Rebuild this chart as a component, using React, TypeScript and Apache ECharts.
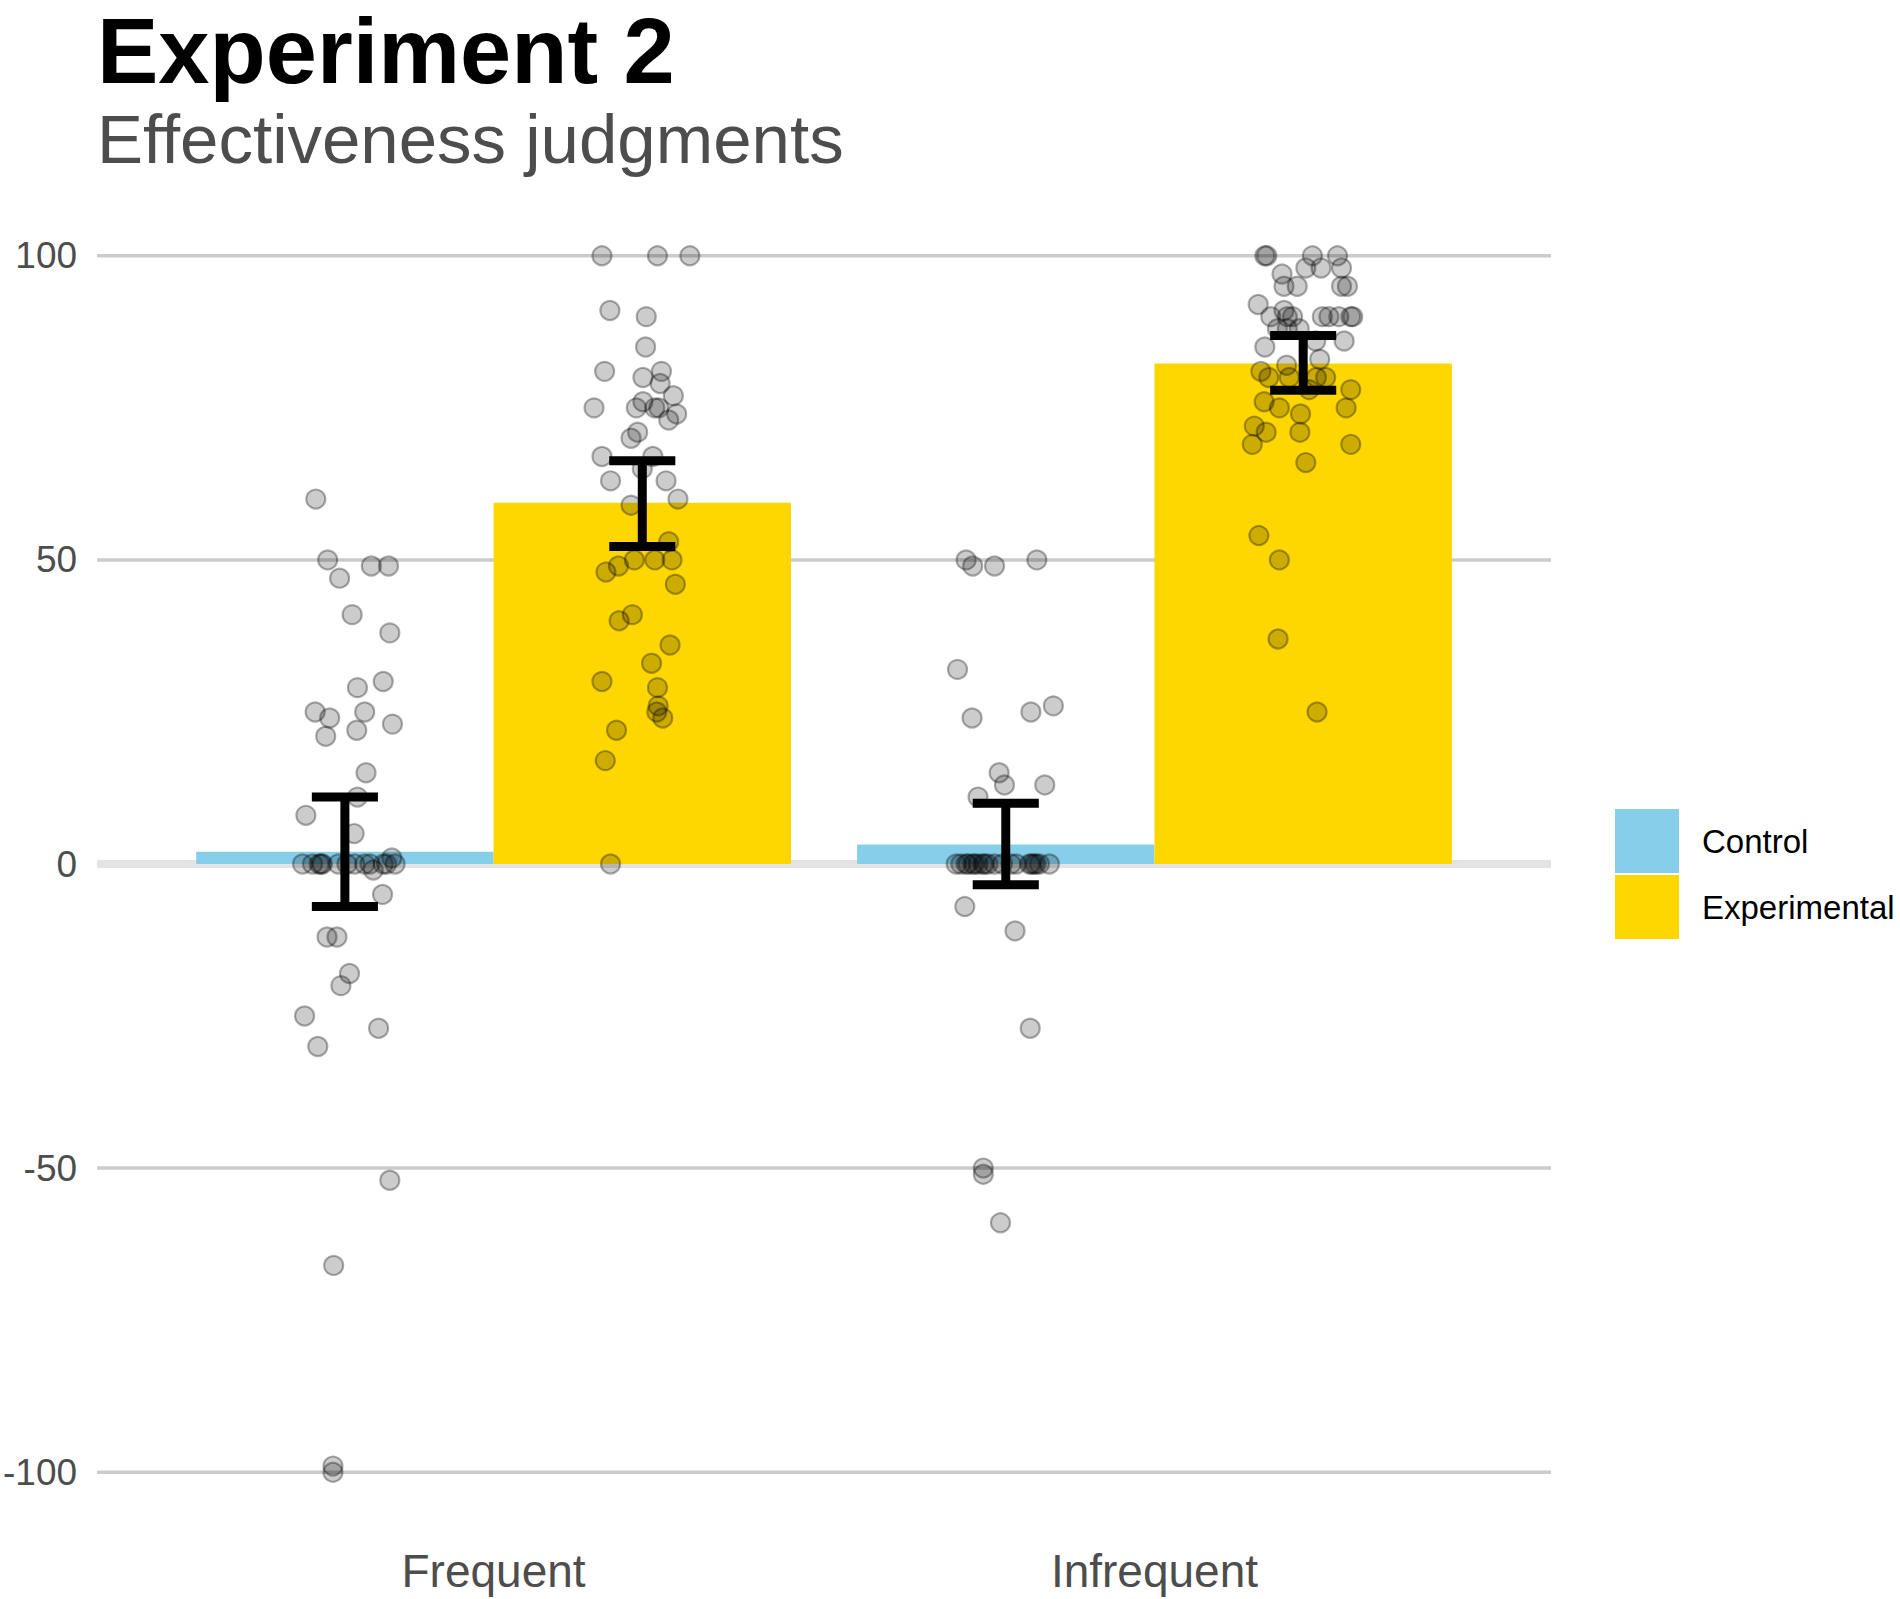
import React, { useEffect, useRef } from "react";
import * as echarts from "echarts";

const categories = ["Frequent", "Infrequent"];
const groupNames = ["Control", "Experimental"];
const groupColors = ["#87CEEB", "#FFD700"];
const meanControl = [2.0, 3.2];
const meanExperimental = [59.4, 82.3];
const ciControlLow = [-7.0, -3.4];
const ciControlHigh = [11.0, 10.0];
const ciExperimentalLow = [52.2, 77.9];
const ciExperimentalHigh = [66.3, 86.9];
const yTicks = [-100, -50, 0, 50, 100];

// [horizontal jitter from the bar centre (category units), judgment]
const frequentControlPoints = [
  [-0.044, 60], [-0.026, 50], [0.04, 49], [0.066, 49], [-0.008, 47], [0.011, 41], [0.068, 38],
  [0.058, 30], [0.019, 29], [-0.045, 25], [0.03, 25], [-0.023, 24], [0.072, 23], [0.018, 22],
  [-0.029, 21], [0.032, 15], [0.019, 11], [-0.059, 8], [0.014, 5], [0.071, 1],
  [-0.064, 0], [-0.049, 0], [-0.039, 0], [-0.036, 0], [-0.034, 0], [-0.01, 0], [0.003, 0],
  [0.015, 0], [0.03, 0], [0.038, 0], [0.058, 0], [0.063, 0], [0.076, 0],
  [0.043, -1], [0.057, -5], [-0.027, -12], [-0.012, -12], [0.007, -18], [-0.006, -20],
  [-0.061, -25], [0.051, -27], [-0.041, -30], [0.068, -52], [-0.017, -66], [-0.018, -99],
  [-0.018, -100],
];
const frequentExperimentalPoints = [
  [-0.061, 100], [0.023, 100], [0.072, 100], [-0.049, 91], [0.006, 90], [0.005, 85],
  [-0.057, 81], [0.029, 81], [0.001, 80], [0.027, 79], [0.047, 77], [0.001, 76], [-0.073, 75],
  [-0.009, 75], [0.019, 75], [0.025, 75], [0.052, 74], [0.04, 73], [-0.007, 71], [-0.017, 70],
  [-0.061, 67], [0.016, 67], [0.0, 65], [-0.048, 63], [0.036, 63], [-0.017, 59], [0.054, 60],
  [0.04, 53], [-0.012, 50], [0.019, 50], [0.045, 50], [-0.036, 49], [-0.055, 48], [0.05, 46],
  [-0.015, 41], [-0.035, 40], [0.042, 36], [0.014, 33], [-0.061, 30], [0.023, 29], [0.024, 26],
  [0.022, 25], [0.031, 24], [-0.039, 22], [-0.056, 17], [-0.048, 0],
];
const infrequentControlPoints = [
  [-0.06, 50], [-0.05, 49], [-0.017, 49], [0.047, 50], [-0.073, 32], [-0.051, 24], [0.038, 25],
  [0.072, 26], [-0.01, 15], [-0.002, 13], [0.059, 13], [-0.042, 11],
  [-0.075, 0], [-0.068, 0], [-0.06, 0], [-0.057, 0], [-0.05, 0], [-0.047, 0], [-0.042, 0],
  [-0.035, 0], [-0.032, 0], [-0.027, 0], [-0.017, 0], [-0.005, 0], [0.008, 0], [0.016, 0],
  [0.036, 0], [0.039, 0], [0.043, 0], [0.046, 0], [0.051, 0], [0.066, 0],
  [-0.062, -7], [0.014, -11], [0.037, -27], [-0.034, -50], [-0.034, -51], [-0.008, -59],
];
const infrequentExperimentalPoints = [
  [-0.058, 100], [-0.055, 100], [0.014, 100], [0.052, 100], [-0.032, 97], [0.004, 98],
  [0.027, 98], [0.058, 98], [-0.029, 95], [-0.009, 95], [0.058, 95], [0.067, 95], [-0.068, 92],
  [-0.049, 90], [-0.029, 91], [-0.024, 90], [-0.016, 90], [0.029, 90], [0.039, 90], [0.054, 90],
  [0.072, 90], [0.075, 90], [-0.039, 88], [-0.024, 88], [-0.006, 88], [0.019, 86], [0.062, 86],
  [-0.058, 85], [0.025, 83], [-0.025, 82], [-0.064, 81], [-0.052, 80], [-0.021, 80], [0.02, 80],
  [0.034, 80], [0.009, 78], [0.072, 78], [-0.059, 76], [-0.036, 75], [-0.004, 74], [0.065, 75],
  [-0.074, 72], [-0.056, 71], [-0.005, 71], [-0.077, 69], [0.072, 69], [0.004, 66],
  [-0.067, 54], [-0.036, 50], [-0.038, 37], [0.021, 25],
];

const X_MIN = 0.4;
const X_MAX = 2.6;
const DODGE = 0.225;
const BAR_HALF = 0.225;
const CAP_HALF = 0.05;
const FONT = "'Liberation Sans', Arial, Helvetica, sans-serif";

export default function App() {
  const ref = useRef<HTMLDivElement>(null);

  useEffect(() => {
    if (!ref.current) return;
    const chart = echarts.init(ref.current, null, { renderer: "svg" });

    const barSeries = (gi: number, means: number[]) => ({
      type: "custom",
      name: groupNames[gi],
      coordinateSystem: "cartesian2d",
      itemStyle: { color: groupColors[gi] },
      encode: { x: 0, y: 1 },
      z: 2,
      silent: true,
      data: means.map((m, i) => [i + 1 + (gi === 0 ? -DODGE : DODGE), m]),
      renderItem: (params: any, api: any) => {
        const x = api.value(0);
        const y = api.value(1);
        const p0 = api.coord([x - BAR_HALF, y]);
        const p1 = api.coord([x + BAR_HALF, 0]);
        return {
          type: "rect",
          shape: {
            x: p0[0],
            y: Math.min(p0[1], p1[1]),
            width: p1[0] - p0[0],
            height: Math.abs(p1[1] - p0[1]),
          },
          style: { fill: groupColors[gi] },
        };
      },
    });

    const pointSeries = (name: string, pts: number[][], center: number) => ({
      type: "scatter",
      name,
      z: 3,
      silent: true,
      symbol: "circle",
      symbolSize: 19,
      itemStyle: {
        color: "rgba(0,0,0,0.25)",
        borderColor: "rgba(0,0,0,0.4)",
        borderWidth: 2.2,
      },
      data: pts.map(([dx, v]) => [center + dx, v]),
    });

    const errData = [
      ...categories.map((_, i) => [i + 1 - DODGE, ciControlLow[i], ciControlHigh[i]]),
      ...categories.map((_, i) => [i + 1 + DODGE, ciExperimentalLow[i], ciExperimentalHigh[i]]),
    ];

    const option: any = {
      animation: false,
      backgroundColor: "#ffffff",
      textStyle: { fontFamily: FONT },
      title: [
        {
          text: "Experiment 2",
          left: 97,
          top: 11,
          padding: 0,
          textStyle: { fontSize: 92, fontWeight: "bold", color: "#000000", lineHeight: 80, fontFamily: FONT },
        },
        {
          text: "Effectiveness judgments",
          left: 97,
          top: 105,
          padding: 0,
          textStyle: { fontSize: 69, fontWeight: "normal", color: "#4d4d4d", lineHeight: 68, fontFamily: FONT },
        },
      ],
      legend: {
        orient: "vertical",
        left: 1615,
        top: 809,
        padding: 0,
        itemWidth: 64,
        itemHeight: 64,
        itemGap: 2,
        selectedMode: false,
        data: groupNames.map((n, i) => ({ name: n, icon: "rect", itemStyle: { color: groupColors[i] } })),
        textStyle: { fontSize: 33, color: "#000000", fontFamily: FONT, padding: [0, 0, 0, 18] },
      },
      grid: { left: 97, right: 349, top: 195, bottom: 66, containLabel: false },
      xAxis: {
        type: "value",
        min: X_MIN,
        max: X_MAX,
        axisLine: { show: false },
        axisTick: { show: false },
        splitLine: { show: false },
        axisLabel: {
          customValues: [1, 2],
          formatter: (v: number) => categories[Math.round(v) - 1] ?? "",
          fontSize: 46,
          color: "#4d4d4d",
          margin: 15,
          fontFamily: FONT,
        },
      },
      yAxis: {
        type: "value",
        min: -110,
        max: 110,
        axisLine: { show: false },
        axisTick: { show: false },
        splitLine: { show: false },
        axisLabel: {
          customValues: yTicks,
          fontSize: 37,
          color: "#4d4d4d",
          margin: 20,
          fontFamily: FONT,
        },
      },
      series: [
        {
          type: "custom",
          name: "grid",
          coordinateSystem: "cartesian2d",
          z: 0,
          silent: true,
          encode: { x: 0, y: 1 },
          data: yTicks.map((v) => [X_MIN, v]),
          renderItem: (params: any, api: any) => {
            const v = api.value(1);
            const a = api.coord([X_MIN, v]);
            const b = api.coord([X_MAX, v]);
            const isZero = v === 0;
            return {
              type: "line",
              shape: { x1: a[0], y1: a[1], x2: b[0], y2: b[1] },
              style: { stroke: isZero ? "#e3e3e3" : "#cbcbcb", lineWidth: isZero ? 8 : 3.5 },
            };
          },
        },
        barSeries(0, meanControl),
        barSeries(1, meanExperimental),
        pointSeries("Frequent Control points", frequentControlPoints, 1 - DODGE),
        pointSeries("Frequent Experimental points", frequentExperimentalPoints, 1 + DODGE),
        pointSeries("Infrequent Control points", infrequentControlPoints, 2 - DODGE),
        pointSeries("Infrequent Experimental points", infrequentExperimentalPoints, 2 + DODGE),
        {
          type: "custom",
          name: "error bars",
          coordinateSystem: "cartesian2d",
          z: 5,
          silent: true,
          encode: { x: 0, y: [1, 2] },
          data: errData,
          renderItem: (params: any, api: any) => {
            const x = api.value(0);
            const lo = api.value(1);
            const hi = api.value(2);
            const top = api.coord([x, hi]);
            const bot = api.coord([x, lo]);
            const tl = api.coord([x - CAP_HALF, hi]);
            const tr = api.coord([x + CAP_HALF, hi]);
            const bl = api.coord([x - CAP_HALF, lo]);
            const br = api.coord([x + CAP_HALF, lo]);
            const st = { stroke: "#000000", lineWidth: 9, lineCap: "butt" };
            return {
              type: "group",
              children: [
                { type: "line", shape: { x1: top[0], y1: top[1], x2: bot[0], y2: bot[1] }, style: st },
                { type: "line", shape: { x1: tl[0], y1: tl[1], x2: tr[0], y2: tr[1] }, style: st },
                { type: "line", shape: { x1: bl[0], y1: bl[1], x2: br[0], y2: br[1] }, style: st },
              ],
            };
          },
        },
      ],
    };

    chart.setOption(option);
    return () => chart.dispose();
  }, []);

  return (
    <div
      ref={ref}
      style={{ position: "absolute", left: 0, top: 0, width: 1900, height: 1599, background: "#fff" }}
    />
  );
}
